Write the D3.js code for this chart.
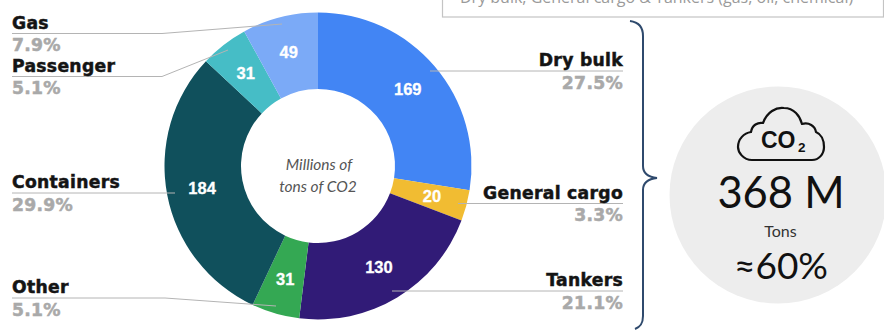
<!DOCTYPE html>
<html>
<head>
<meta charset="utf-8">
<script src="https://cdnjs.cloudflare.com/ajax/libs/d3/7.8.5/d3.min.js"></script>
<style>
html,body{margin:0;padding:0;background:#fff;}
svg{display:block;}
.name,.pct{font-family:"DejaVu Sans";font-weight:700;font-size:17.2px;letter-spacing:.3px;stroke-width:.5px;paint-order:stroke;}
.name{fill:#141414;stroke:#141414;}
.pct{fill:#a9a9a9;stroke:#a9a9a9;}
.val{font-family:"Liberation Sans";font-weight:700;font-size:16.5px;fill:#fff;stroke:#fff;stroke-width:.3px;text-anchor:middle;}
</style>
</head>
<body>
<svg id="chart" width="884" height="330"></svg>
<script>
const categories = ["Dry bulk","General cargo","Tankers","Other","Containers","Passenger","Gas"];
const values = [169,20,130,31,184,31,49];
const shares = ["27.5%","3.3%","21.1%","5.1%","29.9%","5.1%","7.9%"];
const colors = ["#4285f4","#f1bc32","#311b77","#34a853","#10505c","#46bdc6","#7baaf7"];

const svg = d3.select("#chart");
const cx = 318, cy = 166, outerR = 153.5, innerR = 77, valueR = 118;

const pie = d3.pie().sort(null).value(d => d)(values);
const arc = d3.arc().innerRadius(innerR).outerRadius(outerR);
const valueArc = d3.arc().innerRadius(valueR).outerRadius(valueR);

const ring = svg.append("g").attr("transform", `translate(${cx},${cy})`);
ring.selectAll("path").data(pie).join("path")
  .attr("d", arc)
  .attr("fill", (d,i) => colors[i]);

ring.selectAll("text").data(pie).join("text")
  .attr("class","val")
  .attr("transform", d => `translate(${valueArc.centroid(d)})`)
  .attr("dy","0.36em")
  .text(d => d.data);

// centre caption
const caption = svg.append("g").attr("font-family","Lato").attr("font-style","italic")
  .attr("font-size",15.5).attr("fill","#555").attr("text-anchor","middle");
caption.append("text").attr("x",cx+1).attr("y",170).text("Millions of");
caption.append("text").attr("x",cx).attr("y",192).text("tons of CO2");

// label placement per category: side, underline height, leader path onto the ring
const labelLayout = [
  {side:"r", y:71, line:[[623,71],[430,71]]},
  {side:"r", y:203.5, line:[[623,203.5],[458,203.5]]},
  {side:"r", y:291, line:[[623,291],[392,291]]},
  {side:"l", y:298, line:[[12,298],[165,298],[276,306]]},
  {side:"l", y:193, line:[[12,193],[175,193]]},
  {side:"l", y:76.5, line:[[12,76.5],[162,76.5],[228,50]]},
  {side:"l", y:33.5, line:[[12,33.5],[162,33.5],[282,24]]}
];

const lineGen = d3.line();
const labels = svg.append("g");
labelLayout.forEach((l,i) => {
  labels.append("path").attr("d", lineGen(l.line)).attr("fill","none")
    .attr("stroke","#b4b4b4").attr("stroke-width",1);
  const x = l.side === "r" ? 623 : 12;
  const anchor = l.side === "r" ? "end" : "start";
  labels.append("text").attr("class","name").attr("x",x).attr("y",l.y-5)
    .attr("text-anchor",anchor).text(categories[i]);
  labels.append("text").attr("class","pct").attr("x",x).attr("y",l.y+17.5)
    .attr("text-anchor",anchor).text(shares[i]);
});

// note box running off the top and right edges
svg.append("rect").attr("x",442.5).attr("y",-20).attr("width",441).attr("height",37)
  .attr("fill","#fff").attr("stroke","#c4c4c4").attr("stroke-width",1.2);
svg.append("text").attr("x",460).attr("y",3).attr("font-family","Open Sans").attr("font-size",16)
  .attr("fill","#9a9a9a").text("Dry bulk, General cargo & Tankers (gas, oil, chemical)");

// curly brace
svg.append("path").attr("fill","none").attr("stroke","#2f4a6d").attr("stroke-width",2)
  .attr("d","M630,21 C638,22 643,26 643,36 L643,166 C643,172 647,177 657,178 C647,179 643,184 643,190 L643,316 C643,324 640,327 635,329");

// summary disc
svg.append("circle").attr("cx",778).attr("cy",195).attr("r",108.5).attr("fill","#ededed");
const cloud = svg.append("g").attr("fill","none").attr("stroke","#111").attr("stroke-width",2.2)
  .attr("stroke-linejoin","round");
cloud.append("path").attr("d","M752,160 C743,160 738,152 738,147 C738,139 744,133 751,132 C752,125 758,122 763,123 C767,112 776,107 784,108 C794,108 800,116 802,124 C809,122 815,126 816,132 C821,134 824,140 824,147 C824,154 819,160 812,160 Z");
svg.append("text").attr("x",761).attr("y",147.5).attr("font-family","Liberation Sans").attr("font-weight",700)
  .attr("font-size",23).attr("fill","#111").text("CO");
svg.append("text").attr("x",798).attr("y",152).attr("font-family","Liberation Sans").attr("font-weight",700)
  .attr("font-size",13.5).attr("fill","#111").text("2");

const summary = svg.append("g").attr("font-family","Lato").attr("fill","#111").attr("text-anchor","middle");
summary.append("text").attr("x",781).attr("y",208).attr("font-size",43.5).text("368 M");
summary.append("text").attr("x",780.5).attr("y",236.5).attr("font-size",16).attr("fill","#333").text("Tons");
summary.append("text").attr("x",781).attr("y",279).attr("font-size",37).text("≈60%");
</script>
</body>
</html>
